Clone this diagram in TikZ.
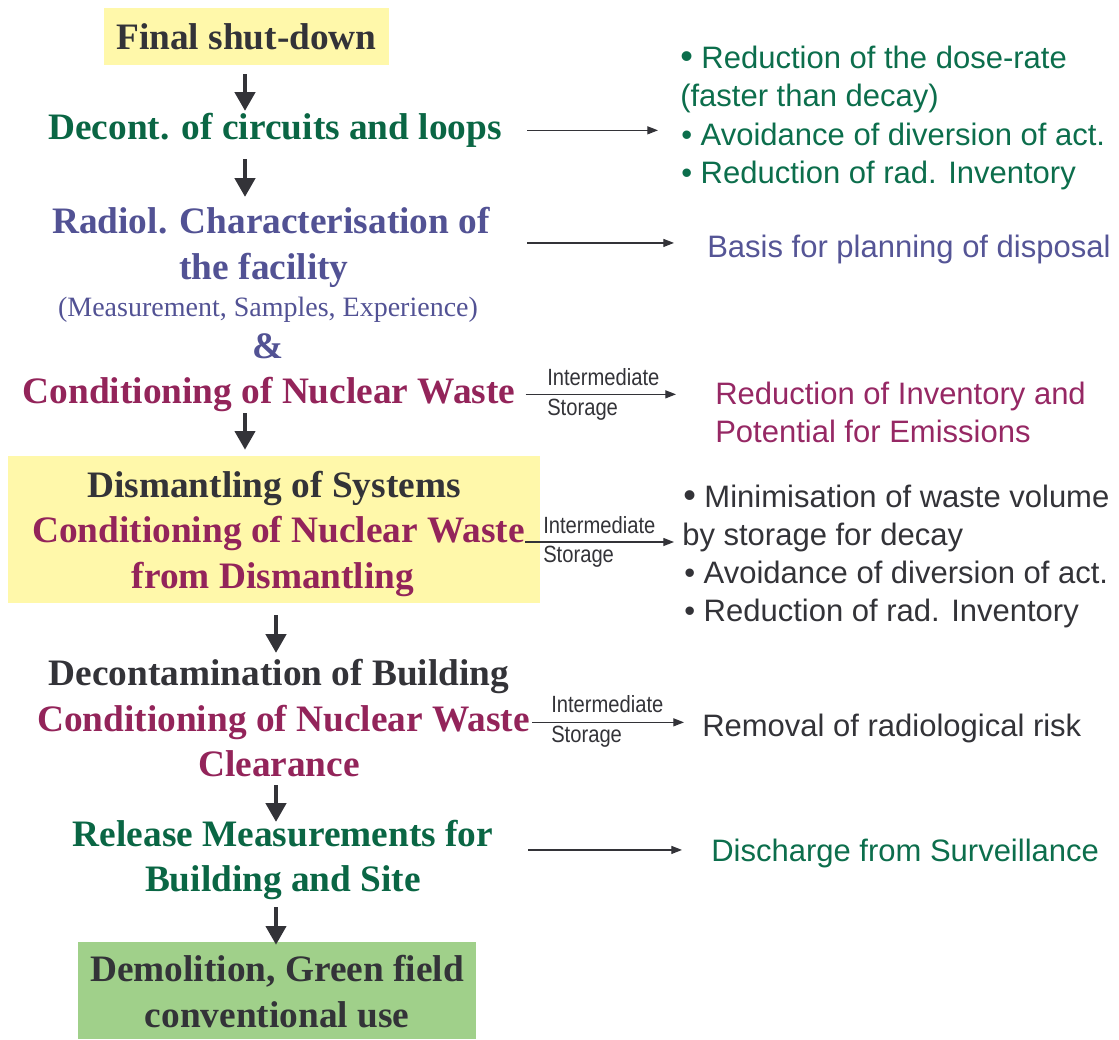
\documentclass[tikz,border=0pt]{standalone}
\usepackage{fontspec}
\setmainfont{Liberation Serif}
\newfontfamily\arialx{Liberation Sans}
\newfontfamily\arialn{Liberation Sans}[FakeStretch=0.86]
\usetikzlibrary{arrows.meta,calc}
\definecolor{dk}{RGB}{51,51,56}
\definecolor{gL}{RGB}{10,102,68}
\definecolor{pL}{RGB}{82,82,148}
\definecolor{mL}{RGB}{147,36,90}
\definecolor{gR}{RGB}{12,110,76}
\definecolor{pR}{RGB}{85,85,150}
\definecolor{mR}{RGB}{150,40,100}
\definecolor{yel}{RGB}{255,248,170}
\definecolor{grn}{RGB}{160,208,138}
\definecolor{arrc}{RGB}{51,51,56}
\newcommand{\bigbul}{{\fontsize{27}{27}\selectfont\textbullet}\ }
\tikzset{
  L/.style={font=\fontsize{28}{33}\selectfont\bfseries, inner sep=0pt, text height=19pt, text depth=6pt, anchor=base},
  Lr/.style={font=\fontsize{21}{25}\selectfont, inner sep=0pt, anchor=base},
  R/.style={font=\arialx\fontsize{23.25}{28}\selectfont, inner sep=0pt, text height=16.6pt, text depth=0pt, anchor=base west},
  lab/.style={font=\arialn\fontsize{17.6}{21}\selectfont, inner sep=0pt, anchor=base west, text=dk},
  bigarr/.style={draw=arrc, line width=3pt, -{Triangle[width=15pt,length=14pt]}},
  thinarr/.style={draw=arrc, line width=0.9pt, -{Triangle[width=6pt,length=8pt]}},
  boxn/.style={inner sep=0pt, draw=none},
}
\begin{document}
\begin{tikzpicture}[x=0.75pt,y=-0.75pt]
\useasboundingbox (0,0) rectangle (1119,1039);
% axes for the vertical arrows
\coordinate (axL) at (245,0);
\coordinate (axR) at (276,0);
% background boxes
\node[boxn, fill=yel, minimum width=213.75pt, minimum height=42.75pt] (fsbox) at (246.5,36.5) {};
\node[boxn, fill=yel, minimum width=399pt, minimum height=110.25pt] (box2) at (274,529.5) {};
\node[boxn, fill=grn, minimum width=298.5pt, minimum height=72.75pt] (gbox) at (277,990.5) {};
% left column
\node[L, text=dk] (fs) at (246.5,49) {Final shut-down};
\node[L, text=gL] (dec) at (275,139) {Decont. of circuits and loops};
\node[L, text=pL] (rad1) at (271,233) {Radiol. Characterisation of};
\node[L, text=pL] (rad2) at (264,279) {the facility};
\node[Lr, text=pL] (meas) at (268,316) {(Measurement, Samples, Experience)};
\node[L, text=pL] (amp) at (268,358) {\&};
\node[L, text=mL] (cond1) at (269,403) {Conditioning of Nuclear Waste};
\node[L, text=dk] (dism) at (274,497) {Dismantling of Systems};
\node[L, text=mL] (cond2) at (278.5,542) {Conditioning of Nuclear Waste};
\node[L, text=mL] (from) at (273,588) {from Dismantling};
\node[L, text=dk] (dcb) at (279,685) {Decontamination of Building};
\node[L, text=mL] (cond3) at (283.5,731) {Conditioning of Nuclear Waste};
\node[L, text=mL] (clr) at (279,776) {Clearance};
\node[L, text=gL] (rel1) at (283,846) {Release Measurements for};
\node[L, text=gL] (bld) at (283,891) {Building and Site};
\node[L, text=dk] (dem1) at (277,981) {Demolition, Green field};
\node[L, text=dk] (dem2) at (277,1027) {conventional use};
% right column
\node[R, text=gR] (g1) at (680,68) {\bigbul Reduction of the dose-rate};
\node[R, text=gR] (g2) at (680,106) {(faster than decay)};
\node[R, text=gR] (g3) at (681,145) {\textbullet\ Avoidance of diversion of act.};
\node[R, text=gR] (g4) at (681,183) {\textbullet\ Reduction of rad. Inventory};
\node[R, text=pR] (basis) at (707,257) {Basis for planning of disposal};
\node[R, text=mR] (red1) at (715,404) {Reduction of Inventory and};
\node[R, text=mR] (red2) at (715,442) {Potential for Emissions};
\node[R, text=dk] (min1) at (683,507) {\bigbul Minimisation of waste volume};
\node[R, text=dk] (byst) at (682,545) {by storage for decay};
\node[R, text=dk] (av2) at (684,583) {\textbullet\ Avoidance of diversion of act.};
\node[R, text=dk] (rd2) at (684,621) {\textbullet\ Reduction of rad. Inventory};
\node[R, text=dk] (rem) at (702,736) {Removal of radiological risk};
\node[R, text=gR] (disc) at (711,861) {Discharge from Surveillance};
% arrow labels
\node[lab] (int1) at (547,385) {Intermediate};
\node[lab] (sto1) at (547,415) {Storage};
\node[lab] (int2) at (543,533) {Intermediate};
\node[lab] (sto2) at (543,562) {Storage};
\node[lab] (int3) at (551,712) {Intermediate};
\node[lab] (sto3) at (551,742) {Storage};
% vertical arrows
\draw[bigarr, shorten <=6.75pt, shorten >=1.9pt] (fsbox.south -| axL) -- (dec.north -| axL);
\draw[bigarr, shorten <=9pt, shorten >=7.9pt] (dec.south -| axL) -- (rad1.north -| axL);
\draw[bigarr, shorten <=1.5pt, shorten >=4.5pt] (cond1.south -| axL) -- (box2.north -| axL);
\draw[bigarr, shorten <=9pt, shorten >=4.9pt] (box2.south -| axR) -- (dcb.north -| axR);
\draw[bigarr, shorten <=0.75pt, shorten >=-1.1pt] (clr.south -| axR) -- (rel1.north -| axR);
\draw[bigarr, shorten <=6pt, shorten >=-2.25pt] (bld.south -| axR) -- (gbox.north -| axR);
% horizontal arrows
\draw[thinarr, shorten <=18.75pt, shorten >=17.25pt] (dec.east) -- (dec.east -| g3.west);
\draw[thinarr, shorten <=27.75pt, shorten >=24.75pt] ([yshift=2.25pt]basis.west -| rad1.east) -- ([yshift=2.25pt]basis.west);
\draw[thinarr, shorten <=7.5pt, shorten >=29.25pt] (cond1.east) -- (cond1.east -| red1.west);
\draw[thinarr, shorten >=6pt] (cond2.base east) -- (cond2.base east -| byst.west);
\draw[thinarr, shorten <=1.5pt, shorten >=13.5pt] (cond3.east) -- (cond3.east -| rem.west);
\draw[thinarr, shorten <=26.25pt, shorten >=21.75pt] (disc.west -| rel1.east) -- (disc.west);
\end{tikzpicture}
\end{document}
